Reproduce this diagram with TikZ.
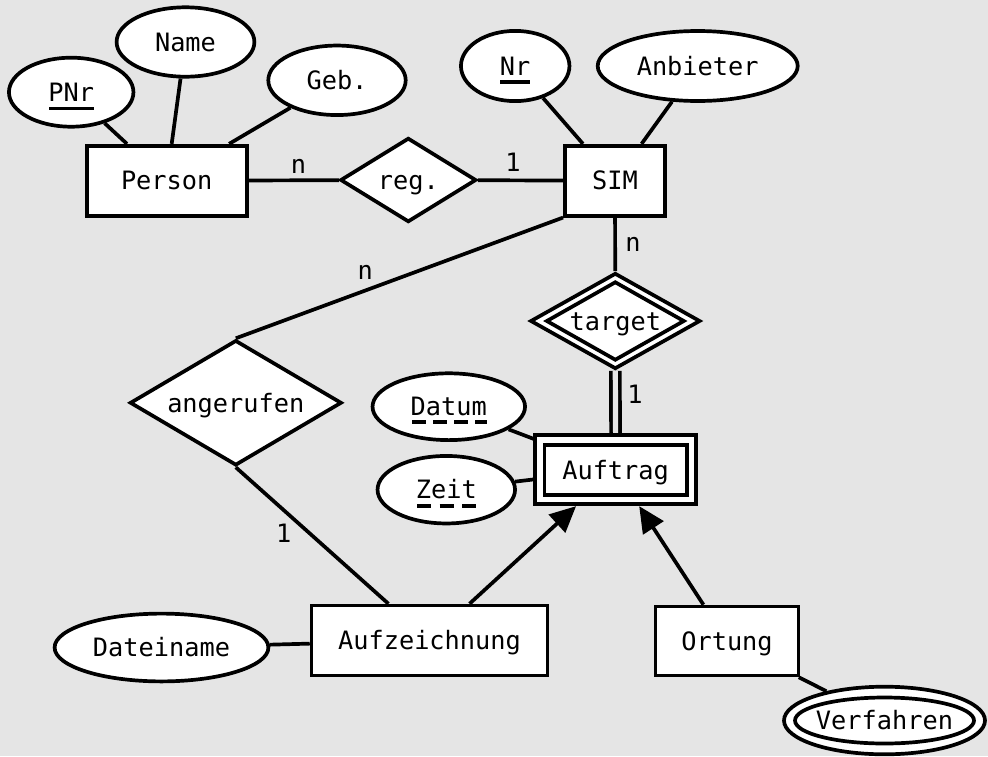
\documentclass[tikz,border=0pt]{standalone}
\usepackage{fontspec}
\setmainfont{DejaVu Sans Mono}
\usetikzlibrary{shapes.geometric,arrows.meta}
\pgfdeclarelayer{back}
\pgfdeclarelayer{edges}
\pgfsetlayers{back,edges,main}
\definecolor{bgc}{RGB}{229,229,229}
\begin{document}
\begin{tikzpicture}[x=1pt,y=-1pt,
  every node/.style={font=\fontsize{25.3}{30}\selectfont, text height=18.4pt, text depth=0pt, inner sep=0pt, line width=3.7pt},
  ent/.style={draw, fill=white, rectangle},
  attr/.style={draw, fill=white, ellipse},
  rel/.style={draw, fill=white, diamond, aspect=1.75},
  lbl/.style={anchor=base},
  conn/.style={line width=3.7pt},
  arr/.style={line width=3.7pt, -{Triangle[length=26pt,width=24pt]}},
  uline/.style={line width=3.4pt},
  dline/.style={line width=3.4pt, dash pattern=on 13.5pt off 7.5pt}]
\begin{pgfonlayer}{back}
\fill[bgc] (0,0) rectangle (988,756);
\end{pgfonlayer}
\useasboundingbox (0,0) rectangle (988,756);

\node[ent, minimum width=160pt, minimum height=70pt] (person) at (166.7,180.7) {Person};
\node[attr, minimum width=124.5pt, minimum height=69pt] (pnr) at (71.2,92.2) {PNr};
\node[attr, minimum width=137.8pt, minimum height=69.4pt] (name) at (185.5,42) {Name};
\node[attr, minimum width=137.4pt, minimum height=69.5pt] (geb) at (337,80.3) {Geb.};
\node[rel, minimum width=136pt, minimum height=84.2pt] (reg) at (408.3,180) {reg.};
\node[ent, minimum width=100.2pt, minimum height=70pt] (sim) at (615,180.7) {SIM};
\node[attr, minimum width=108.5pt, minimum height=70.2pt] (nr) at (515.2,66) {Nr};
\node[attr, minimum width=200pt, minimum height=70pt] (anb) at (697.7,66) {Anbieter};
\node[rel, minimum width=170pt, minimum height=96pt] (target) at (615.3,321) {};
\node[rel, minimum width=138.4pt, minimum height=79pt] (targetin) at (615.3,321) {target};
\node[ent, minimum width=160.7pt, minimum height=69pt] (auftrag) at (615.6,469.8) {};
\node[ent, minimum width=142.3pt, minimum height=50.3pt] (auftragin) at (615.6,469.8) {Auftrag};
\node[attr, minimum width=152.5pt, minimum height=66.8pt] (datum) at (448.8,406.7) {Datum};
\node[attr, minimum width=137.5pt, minimum height=67.5pt] (zeit) at (446.3,489.7) {Zeit};
\node[rel, minimum width=211.8pt, minimum height=125.3pt] (ang) at (235.8,402.8) {angerufen};
\node[ent, minimum width=235.8pt, minimum height=69.8pt] (aufz) at (429.5,640.5) {Aufzeichnung};
\node[attr, minimum width=213.8pt, minimum height=67.8pt] (datei) at (161.5,647.5) {Dateiname};
\node[ent, minimum width=142.8pt, minimum height=68.8pt] (ortung) at (727,641) {Ortung};
\node[attr, minimum width=201pt, minimum height=67.6pt] (verf) at (884.5,720.5) {};
\node[attr, minimum width=179pt, minimum height=46pt] (verfin) at (884.5,720.5) {};
\node (verftxt) at (884.5,720.5) {Verfahren};

\begin{pgfonlayer}{edges}
\draw[conn] (pnr) -- (person);
\draw[conn] (name) -- (person);
\draw[conn] (geb) -- (person);
\draw[conn] (person) -- (reg);
\draw[conn] (reg) -- (sim);
\draw[conn] (nr) -- (sim);
\draw[conn] (anb) -- (sim);
\draw[conn] (sim) -- (target);
\draw[conn] (sim.south west) -- (ang.north);
\draw[conn] (ang.south) -- (aufz);
\draw[conn, double=bgc, double distance=5.2pt] (target.south) -- (auftrag.north);
\draw[conn] (datum) -- (auftrag);
\draw[conn] (zeit) -- (auftrag);
\draw[conn] (datei) -- (aufz);
\draw[conn] (ortung) -- (verf);
\draw[arr] (aufz) -- (auftrag);
\draw[arr] (ortung) -- (auftrag);
\end{pgfonlayer}

\node[lbl] (l1) at (298.5,173) {n};
\node[lbl] (l2) at (513,171.7) {1};
\node[lbl] (l3) at (633,251.7) {n};
\node[lbl] (l4) at (365.3,279) {n};
\node[lbl] (l5) at (635,403) {1};
\node[lbl] (l6) at (283.7,542.3) {1};

\draw[uline] ([shift={(-22,16.1)}]pnr.center) -- ([shift={(23,16.1)}]pnr.center);
\draw[uline] ([shift={(-15.2,16)}]nr.center) -- ([shift={(14.8,16)}]nr.center);
\draw[dline] ([shift={(-36.8,15.3)}]datum.center) -- ([shift={(38.2,15.3)}]datum.center);
\draw[uline, dash pattern=on 14pt off 8.5pt] ([shift={(-29.3,16.3)}]zeit.center) -- ([shift={(29.7,16.3)}]zeit.center);
\end{tikzpicture}
\end{document}
